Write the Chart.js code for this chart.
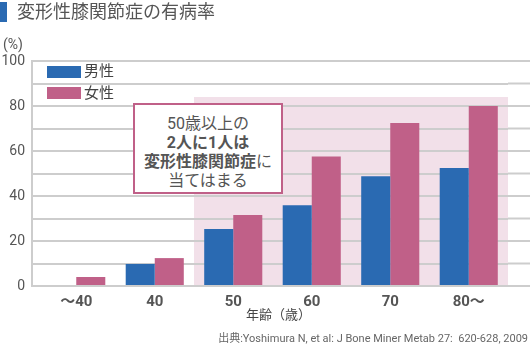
<!DOCTYPE html>
<html>
<head>
<meta charset="utf-8">
<script src="https://cdn.jsdelivr.net/npm/chart.js@4/dist/chart.umd.min.js"></script>
<style>
  body { margin: 0; background: #fff; font-family: Roboto, "Noto Sans CJK JP", sans-serif; color: #555; }
  #wrap { position: relative; width: 530px; height: 346px; overflow: hidden; }
  canvas { position: absolute; left: 0; top: 0; }
  .abs { position: absolute; white-space: nowrap; }
  #titleBar { left: 0; top: 2px; width: 7px; height: 20px; background: #2a6ab2; }
  #title { left: 17px; top: 0; font-size: 18px; line-height: 24px; color: #555; }
  #unit { left: 3px; top: 35px; font-size: 14px; line-height: 18px; }
  .sw { width: 34px; height: 12px; }
  .lg { font-size: 15px; line-height: 18px; color: #444; }
  #note { left: 133px; top: 103px; width: 146px; height: 87px; border: 2px solid #c06088; background: #fff;
          text-align: center; font-size: 16px; line-height: 19px; color: #555; }
  #note div:first-child { margin-top: 9px; }
  #xTitle { left: 246px; top: 306px; width: 60px; text-align: center; font-size: 13px; line-height: 18px; color: #444; }
  #source { right: 2px; top: 331px; font-size: 11px; line-height: 16px; color: #666; }
</style>
</head>
<body>
<div id="wrap">
  <canvas id="chart" width="530" height="346"></canvas>
  <div class="abs" id="titleBar"></div>
  <div class="abs" id="title">変形性膝関節症の有病率</div>
  <div class="abs" id="unit">(%)</div>
  <div class="abs sw" style="left:47px;top:66px;background:#2a6ab2"></div>
  <div class="abs lg" style="left:84px;top:62px">男性</div>
  <div class="abs sw" style="left:47px;top:87px;background:#c06088"></div>
  <div class="abs lg" style="left:84px;top:84px">女性</div>
  <div class="abs" id="note">
    <div>50歳以上の</div>
    <div><b>2人に1人は</b></div>
    <div><b>変形性膝関節症</b>に</div>
    <div>当てはまる</div>
  </div>
  <div class="abs" id="xTitle">年齢（歳）</div>
  <div class="abs" id="source">出典:Yoshimura N, et al: J Bone Miner Metab 27:&nbsp; 620-628, 2009</div>
</div>
<script>
const categories = ["～40", "40", "50", "60", "70", "80～"];
const maleValues = [0, 9.8, 25.3, 35.9, 48.8, 52.5];
const femaleValues = [4.0, 12.4, 31.6, 57.6, 72.4, 80.0];
const yTicks = [0, 20, 40, 60, 80, 100];
const highlightFrom = 2;     // category index where the shaded band starts
const highlightTop = 84;     // band height in axis units

const gridColor = "#cdcdcd";

const decor = {
  id: "decor",
  beforeDraw(chart) {
    const { ctx, chartArea, scales } = chart;
    const x = scales.x, y = scales.y;
    const half = (x.getPixelForValue(1) - x.getPixelForValue(0)) / 2;
    const left = x.getPixelForValue(highlightFrom) - half;
    const top = y.getPixelForValue(highlightTop);
    ctx.save();
    ctx.fillStyle = "#f2e0e9";
    ctx.fillRect(left, top, chartArea.right - left, y.getPixelForValue(0) - top);
    // grid lines continue to the right edge, plus the left frame line
    ctx.strokeStyle = gridColor;
    ctx.lineWidth = 2;
    y.ticks.forEach((t) => {
      const py = y.getPixelForValue(t.value);
      ctx.beginPath();
      ctx.moveTo(chartArea.right, py);
      ctx.lineTo(chart.width, py);
      ctx.stroke();
    });
    ctx.beginPath();
    ctx.moveTo(chartArea.left - 5, y.getPixelForValue(100) - 1);
    ctx.lineTo(chartArea.left - 5, y.getPixelForValue(0) + 1);
    ctx.stroke();
    ctx.restore();
  },
};

new Chart(document.getElementById("chart"), {
  type: "bar",
  data: {
    labels: categories,
    datasets: [
      { label: "男性", data: maleValues, backgroundColor: "#2a6ab2" },
      { label: "女性", data: femaleValues, backgroundColor: "#c06088" },
    ],
  },
  options: {
    responsive: false,
    animation: false,
    events: [],
    layout: { padding: { top: 61, right: 22, left: 0, bottom: 0 } },
    datasets: { bar: { categoryPercentage: 0.74, barPercentage: 1 } },
    plugins: { legend: { display: false }, tooltip: { enabled: false } },
    scales: {
      x: {
        grid: { display: false, drawTicks: false },
        border: { display: false },
        ticks: { color: "#555", font: { family: "Roboto, 'Noto Sans CJK JP'", size: 15, weight: "bold" }, padding: 7 },
        afterFit: (s) => { s.height = 60; },
      },
      y: {
        min: 0,
        max: 100,
        border: { display: false },
        grid: { color: gridColor, lineWidth: 2, tickLength: 5 },
        ticks: {
          stepSize: 10,
          color: "#555",
          padding: 7,
          font: { family: "Roboto", size: 14 },
          callback: (v) => (yTicks.includes(v) ? v : ""),
        },
        afterFit: (s) => { s.width = 37; },
      },
    },
  },
  plugins: [decor],
});
</script>
</body>
</html>
